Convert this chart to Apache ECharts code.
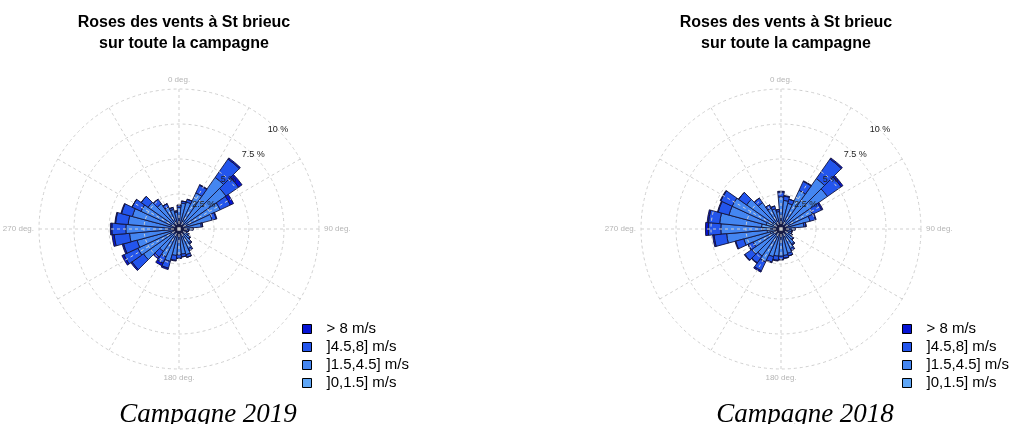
<!DOCTYPE html>
<html>
<head>
<meta charset="utf-8">
<title>Roses des vents à St brieuc</title>
<script src="https://cdn.jsdelivr.net/npm/echarts@6/dist/echarts.min.js"></script>
<style>
  html, body { margin: 0; padding: 0; background: #fff; }
  #chart { width: 1017px; height: 424px; }
</style>
</head>
<body>
<div id="chart"></div>
<script>
// Direction bins (degrees, 10° sectors, 0 = north)
const directions = ['0', '10', '20', '30', '40', '50', '60', '70', '80', '90', '100', '110',
  '120', '130', '140', '150', '160', '170', '180', '190', '200', '210', '220', '230',
  '240', '250', '260', '270', '280', '290', '300', '310', '320', '330', '340', '350'];

// Wind speed classes, innermost first
const speedClasses = [']0,1.5] m/s', ']1.5,4.5] m/s', ']4.5,8] m/s', '> 8 m/s'];
const speedColors = ['#5ea6f7', '#4486f1', '#2355ec', '#0614d4'];

// Radial ticks (% of time) and compass tick labels
const radialTicks = [2.5, 5, 7.5, 10];
const compassTicks = [0, 90, 180, 270];
const compassText = ['0 deg.', '90 deg.', '180 deg.', '270 deg.'];

// Campagne 2019 : frequency (%) per direction and speed class
const calm2019 = [0.25, 0.25, 0.25, 0.25, 0.25, 0.25, 0.25, 0.25, 0.25, 0.25, 0.25, 0.25,
  0.25, 0.25, 0.25, 0.25, 0.25, 0.25, 0.25, 0.3, 0.3, 0.3, 0.3, 0.3,
  0.3, 0.3, 0.3, 0.3, 0.3, 0.3, 0.3, 0.3, 0.3, 0.3, 0.3, 0.25];
const low2019 = [1.30, 1.60, 1.75, 2.60, 4.25, 3.85, 3.00, 2.20, 1.35, 0.70, 0.45, 0.35,
  0.50, 0.70, 0.95, 1.30, 1.65, 1.55, 1.60, 1.60, 2.10, 1.90, 1.65, 2.80,
  2.95, 2.80, 3.25, 3.50, 3.35, 3.15, 2.70, 2.40, 1.90, 1.45, 1.15, 0.95];
const mid2019 = [0.15, 0.15, 0.2, 0.6, 1.6, 1.1, 0.8, 0.3, 0.1, 0.05, 0, 0,
  0.05, 0.05, 0.1, 0.15, 0.2, 0.2, 0.25, 0.35, 0.5, 0.5, 0.5, 1.0,
  1.1, 1.0, 1.1, 1.0, 0.9, 0.8, 0.7, 0.6, 0.4, 0.25, 0.15, 0.1];
const high2019 = [0, 0, 0, 0.05, 0.1, 0.3, 0.25, 0.05, 0, 0, 0, 0,
  0, 0, 0, 0, 0, 0, 0, 0.05, 0.1, 0.2, 0.15, 0.1,
  0.15, 0.1, 0.15, 0.1, 0.05, 0.05, 0, 0, 0, 0, 0, 0];

// Campagne 2018 : frequency (%) per direction and speed class
const calm2018 = [0.3, 0.3, 0.3, 0.3, 0.3, 0.3, 0.3, 0.3, 0.3, 0.3, 0.3, 0.3,
  0.3, 0.3, 0.3, 0.3, 0.3, 0.3, 0.35, 0.4, 0.4, 0.5, 0.5, 0.5,
  0.6, 0.8, 1.0, 1.3, 1.4, 1.1, 0.9, 0.7, 0.5, 0.4, 0.35, 0.3];
const low2018 = [2.00, 1.75, 1.60, 2.75, 4.10, 3.75, 2.20, 1.85, 1.35, 0.65, 0.50, 0.50,
  0.55, 0.75, 1.00, 1.25, 1.50, 1.60, 1.60, 1.55, 1.65, 2.10, 1.85, 2.05,
  1.60, 1.95, 2.90, 3.00, 3.00, 2.75, 2.95, 2.30, 1.80, 1.25, 1.15, 0.95];
const mid2018 = [0.35, 0.3, 0.3, 0.7, 1.7, 1.2, 0.7, 0.4, 0.15, 0.05, 0, 0,
  0.05, 0.05, 0.1, 0.15, 0.2, 0.2, 0.25, 0.3, 0.4, 0.7, 0.6, 0.6,
  0.4, 0.6, 0.9, 0.9, 0.8, 0.8, 0.9, 0.7, 0.4, 0.25, 0.2, 0.15];
const high2018 = [0.05, 0.05, 0, 0.05, 0.1, 0.15, 0.1, 0.05, 0, 0, 0, 0,
  0, 0, 0, 0, 0, 0, 0, 0.05, 0.05, 0.1, 0.05, 0.05,
  0, 0.05, 0.1, 0.2, 0.1, 0.05, 0.05, 0, 0, 0, 0, 0];

const titleText = 'Roses des vents à St brieuc\nsur toute la campagne';
const panels = [
  { cx: 179, captionX: 203, legendX: 302, caption: 'Campagne 2019', stack: 'c2019',
    values: [calm2019, low2019, mid2019, high2019] },
  { cx: 781, captionX: 800, legendX: 902, caption: 'Campagne 2018', stack: 'c2018',
    values: [calm2018, low2018, mid2018, high2018] }
];

const CY = 229, R = 140;
const SANS = 'Liberation Sans, Arial, sans-serif';
const SERIF = 'Liberation Serif, Times New Roman, serif';
const gridLine = { type: [3, 3], color: '#cfcfcf', width: 1 };

const option = {
  animation: false,
  backgroundColor: '#fff',
  title: [], legend: [], polar: [], angleAxis: [], radiusAxis: [], series: []
};

panels.forEach((p, k) => {
  const base = k * 3;
  option.title.push({
    text: titleText, left: p.cx, top: 7, textAlign: 'center',
    textStyle: { fontFamily: SANS, fontSize: 16, fontWeight: 'bold', color: '#000', lineHeight: 21 }
  });
  option.title.push({
    text: p.caption, left: p.captionX, top: 396, textAlign: 'center',
    textStyle: { fontFamily: SERIF, fontSize: 27, fontStyle: 'italic', fontWeight: 'normal', color: '#000' }
  });
  option.legend.push({
    orient: 'vertical', left: p.legendX, top: 321, padding: 0,
    data: speedClasses.slice().reverse(),
    icon: 'rect', itemWidth: 9, itemHeight: 9, itemGap: 2,
    selectedMode: false,
    itemStyle: { borderColor: '#000', borderWidth: 1 },
    textStyle: { fontFamily: SANS, fontSize: 15, color: '#000', lineHeight: 16, padding: [0, 0, 0, 10] }
  });

  // polar base: bars, base+1: dashed grid, base+2: percentage labels
  for (let j = 0; j < 3; j++) option.polar.push({ center: [p.cx, CY], radius: R });

  option.angleAxis.push({
    polarIndex: base, type: 'category', data: directions, startAngle: 95,
    boundaryGap: true, axisLine: { show: false }, axisTick: { show: false },
    axisLabel: { show: false }, splitLine: { show: false }
  });
  option.radiusAxis.push({
    polarIndex: base, type: 'value', min: 0, max: 10, show: false
  });

  option.angleAxis.push({
    polarIndex: base + 1, type: 'value', min: 0, max: 360, interval: 30, startAngle: 90,
    clockwise: true, zlevel: 1,
    axisLine: { show: false }, axisTick: { show: false },
    splitLine: { show: true, lineStyle: gridLine },
    axisLabel: {
      margin: 5, color: '#b5b5b5', fontSize: 8, fontFamily: SANS,
      formatter: v => { const i = compassTicks.indexOf(v); return i >= 0 ? compassText[i] : ''; }
    }
  });
  option.radiusAxis.push({
    polarIndex: base + 1, type: 'value', min: 0, max: 10, interval: 2.5, zlevel: 1,
    axisLine: { show: false }, axisTick: { show: false }, axisLabel: { show: false },
    splitLine: { show: true, lineStyle: gridLine }
  });

  option.angleAxis.push({
    polarIndex: base + 2, type: 'value', min: 0, max: 360, startAngle: 45, show: false
  });
  option.radiusAxis.push({
    polarIndex: base + 2, type: 'value', min: 0, max: 10, interval: 2.5, zlevel: 2,
    axisLine: { show: false }, axisTick: { show: false }, splitLine: { show: false },
    axisLabel: {
      margin: 0, align: 'center', verticalAlign: 'middle',
      color: '#222', fontSize: 9, fontFamily: SANS,
      formatter: v => radialTicks.indexOf(v) >= 0 ? v + ' %' : ''
    }
  });

  speedClasses.forEach((name, s) => {
    option.series.push({
      type: 'bar', name: name, coordinateSystem: 'polar', polarIndex: base,
      stack: p.stack, barWidth: '100%', barCategoryGap: '0%', barGap: '0%',
      data: p.values[s],
      itemStyle: { color: speedColors[s], borderColor: '#14143a', borderWidth: 0.9 },
      emphasis: { disabled: true }
    });
  });
});

const chart = echarts.init(document.getElementById('chart'), null, { renderer: 'canvas' });
chart.setOption(option);
</script>
</body>
</html>
